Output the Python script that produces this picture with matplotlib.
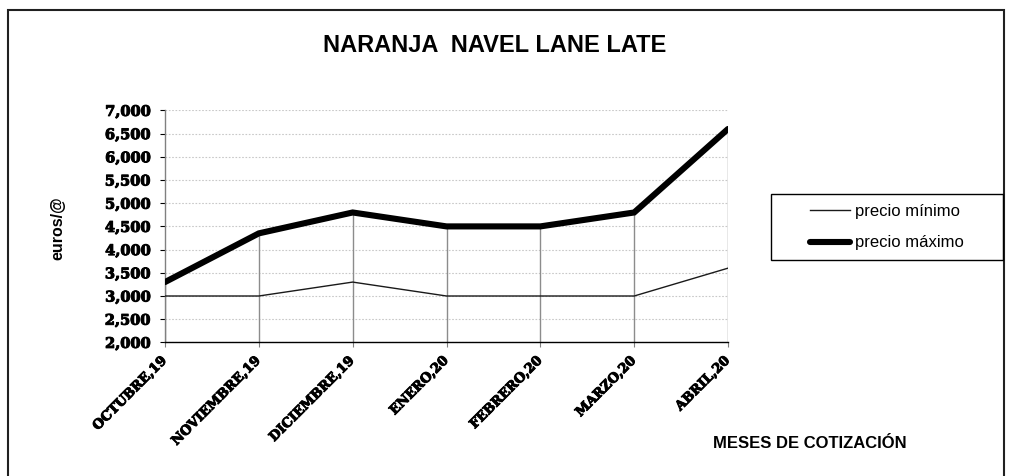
import numpy as np
import matplotlib
matplotlib.use("Agg")
import matplotlib.pyplot as plt
import matplotlib.patheffects as pe
from matplotlib.patches import Rectangle
from matplotlib.ticker import FuncFormatter

# datos
meses = ["OCTUBRE,19", "NOVIEMBRE,19", "DICIEMBRE,19", "ENERO,20",
         "FEBRERO,20", "MARZO,20", "ABRIL,20"]
precio_minimo = [3.000, 3.000, 3.300, 3.000, 3.000, 3.000, 3.600]
precio_maximo = [3.300, 4.350, 4.800, 4.500, 4.500, 4.800, 6.600]
y_ticks = [2.000, 2.500, 3.000, 3.500, 4.000, 4.500, 5.000, 5.500, 6.000, 6.500, 7.000]

serif = "DejaVu Serif"
sans = "Liberation Sans"
grueso = [pe.withStroke(linewidth=0.7, foreground="black")]

fig = plt.figure(figsize=(10.10, 4.76), dpi=100)
ax = fig.add_axes([165/1010, 1-342.4/476, 563/1010, 232/476])

x = np.arange(len(meses))

# lineas de caida desde el maximo
ax.vlines(x, y_ticks[0], precio_maximo, color="#8c8c8c", lw=1.0, zorder=2)

l1, = ax.plot(x, precio_minimo, color="#1a1a1a", lw=1.0, zorder=3, label="precio mínimo")
l2, = ax.plot(x, precio_maximo, color="black", lw=4.4, zorder=4,
              solid_joinstyle="miter", solid_capstyle="round", label="precio máximo")

ax.set_xlim(0, len(meses)-1)
ax.set_ylim(y_ticks[0], y_ticks[-1])
ax.set_yticks(y_ticks)
ax.yaxis.set_major_formatter(FuncFormatter(lambda v, p: f"{v:.3f}".replace(".", ",")))
ax.grid(axis="y", color="#c8c8c8", linestyle=(0, (1.5, 1.5)), lw=0.8)
ax.set_axisbelow(True)

ax.set_xticks(x)
ax.set_xticklabels(meses, rotation=45, ha="right", va="center", rotation_mode="anchor",
                   fontfamily=serif, fontweight="bold", fontsize=9.5)
for lab in ax.get_xticklabels():
    lab.set_path_effects(grueso)
for lab in ax.get_yticklabels():
    lab.set_fontfamily(serif)
    lab.set_fontweight("bold")
    lab.set_fontsize(10.5)
    lab.set_path_effects(grueso)
ax.tick_params(axis="y", length=3.6, width=0.8, pad=7, direction="out", colors="black")
ax.tick_params(axis="x", length=3.6, width=0.8, pad=8, direction="out", colors="black",
               color="#808080")

for s in ["top", "right"]:
    ax.spines[s].set_visible(False)
ax.spines["left"].set_color("#808080")
ax.spines["left"].set_linewidth(1.0)
ax.spines["bottom"].set_color("black")
ax.spines["bottom"].set_linewidth(1.0)

# marco exterior
fig.add_artist(Rectangle((8/1010, -0.05), 996/1010, 1.05 - 10/476,
                         transform=fig.transFigure, fill=False,
                         edgecolor="#202020", lw=1.5))

fig.text(495/1010, 1-45/476, "NARANJA  NAVEL LANE LATE", ha="center", va="center",
         fontfamily=sans, fontweight="bold", fontsize=17)
fig.text(58/1010, 1-228/476, "euros/@", rotation=90, ha="center", va="center",
         fontfamily=sans, fontweight="bold", fontsize=11.5)
fig.text(810/1010, 1-443/476, "MESES DE COTIZACIÓN", ha="center", va="center",
         fontfamily=sans, fontweight="bold", fontsize=12)

# leyenda con marco propio
fig.add_artist(Rectangle((771/1010, 1-260/476), 232/1010, 66/476,
                         transform=fig.transFigure, fill=False,
                         edgecolor="black", lw=1.0))
fig.legend(handles=[l1, l2], loc="center", bbox_to_anchor=(887/1010, 1-227/476),
           frameon=False, prop={"family": sans, "size": 12},
           handlelength=2.4, handletextpad=0.3, labelspacing=1.0)

fig.savefig("out.png", dpi=100)
